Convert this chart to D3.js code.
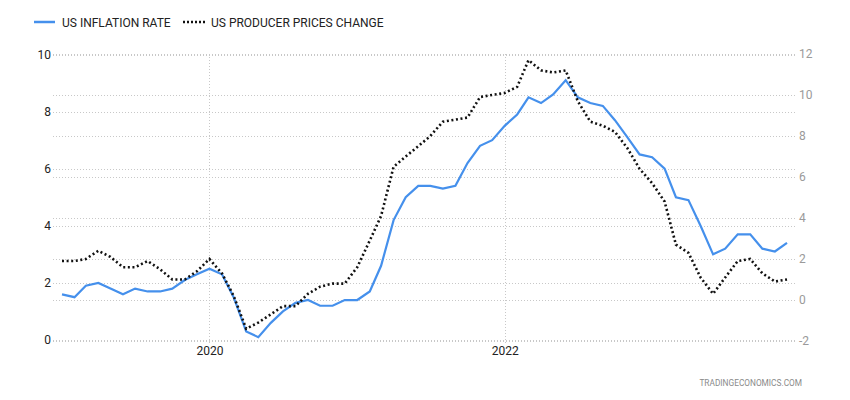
<!DOCTYPE html>
<html>
<head>
<meta charset="utf-8">
<script src="https://cdn.jsdelivr.net/npm/d3@7"></script>
<style>
  html, body { margin: 0; padding: 0; background: #fff; }
  svg { display: block; font-family: Roboto, "Noto Sans", sans-serif; }
</style>
</head>
<body>
<svg id="chart" width="850" height="400"></svg>
<script>
// ---- data ----
const startMonth = "2019-01";
const endMonth = "2023-12";
const inflationRate = [
  1.6, 1.5, 1.9, 2.0, 1.8, 1.6, 1.8, 1.7, 1.7, 1.8, 2.1, 2.3,
  2.5, 2.3, 1.5, 0.3, 0.1, 0.6, 1.0, 1.3, 1.4, 1.2, 1.2, 1.4,
  1.4, 1.7, 2.6, 4.2, 5.0, 5.4, 5.4, 5.3, 5.4, 6.2, 6.8, 7.0,
  7.5, 7.9, 8.5, 8.3, 8.6, 9.1, 8.5, 8.3, 8.2, 7.7, 7.1, 6.5,
  6.4, 6.0, 5.0, 4.9, 4.0, 3.0, 3.2, 3.7, 3.7, 3.2, 3.1, 3.4
];
const producerPrices = [
  1.9, 1.9, 2.0, 2.4, 2.1, 1.6, 1.6, 1.9, 1.5, 1.0, 1.0, 1.4,
  2.0, 1.3, 0.2, -1.4, -1.1, -0.7, -0.3, -0.3, 0.3, 0.65, 0.8, 0.8,
  1.6, 2.9, 4.1, 6.5, 7.0, 7.5, 8.0, 8.7, 8.8, 8.9, 9.9, 10.0,
  10.1, 10.4, 11.7, 11.2, 11.1, 11.2, 9.7, 8.7, 8.5, 8.2, 7.4, 6.4,
  5.7, 4.8, 2.7, 2.3, 1.1, 0.3, 1.1, 1.9, 2.0, 1.3, 0.9, 1.0
];
const leftTicks = [0, 2, 4, 6, 8, 10];
const rightTicks = [-2, 0, 2, 4, 6, 8, 10, 12];
const xTickLabels = ["2020", "2022"];
const seriesNames = ["US INFLATION RATE", "US PRODUCER PRICES CHANGE"];
const sourceText = "TRADINGECONOMICS.COM";

// ---- layout ----
const parse = d3.timeParse("%Y-%m");
const dates = d3.timeMonth.range(parse(startMonth), d3.timeMonth.offset(parse(endMonth), 1));
const plotLeft = 53, plotRight = 797;

const svg = d3.select("#chart");
const x = d3.scaleTime().domain([dates[0], dates[dates.length - 1]]).range([62, 787]);
const yL = d3.scaleLinear().domain([0, 10]).range([340, 54.5]);
const yR = d3.scaleLinear().domain([-2, 12]).range([341, 54]);

const grid = svg.append("g").attr("stroke", "#c8c8c8").attr("stroke-dasharray", "1,2").attr("stroke-width", 1);
leftTicks.forEach(t => grid.append("line")
  .attr("x1", plotLeft).attr("x2", plotRight)
  .attr("y1", Math.round(yL(t)) + 0.5).attr("y2", Math.round(yL(t)) + 0.5));
rightTicks.forEach(t => grid.append("line")
  .attr("x1", plotLeft).attr("x2", plotRight)
  .attr("y1", Math.round(yR(t)) + 0.5).attr("y2", Math.round(yR(t)) + 0.5));
const xTickDates = xTickLabels.map(s => d3.timeParse("%Y")(s));
xTickDates.forEach(d => grid.append("line")
  .attr("x1", Math.round(x(d)) + 0.5).attr("x2", Math.round(x(d)) + 0.5)
  .attr("y1", 54).attr("y2", 344));

const plain = d => String(d);

// axes
const leftAxis = svg.append("g").attr("transform", `translate(${plotLeft - 2},0)`)
  .call(d3.axisLeft(yL).tickValues(leftTicks).tickSize(0).tickPadding(0).tickFormat(plain));
leftAxis.select(".domain").remove();
leftAxis.selectAll("text").attr("fill", "#222").style("font-size", "12px").style("font-family", "Roboto, sans-serif");

const rightAxis = svg.append("g").attr("transform", `translate(${plotRight + 2},0)`)
  .call(d3.axisRight(yR).tickValues(rightTicks).tickSize(0).tickPadding(0).tickFormat(plain));
rightAxis.select(".domain").remove();
rightAxis.selectAll("text").attr("fill", "#9a9a9a").style("font-size", "12px").style("font-family", "Roboto, sans-serif");

const xAxis = svg.append("g").attr("transform", `translate(0,346)`)
  .call(d3.axisBottom(x).tickValues(xTickDates).tickSize(0).tickPadding(0).tickFormat(d3.timeFormat("%Y")));
xAxis.select(".domain").remove();
xAxis.selectAll("text").attr("fill", "#222").style("font-size", "12px").style("font-family", "Roboto, sans-serif");

// lines
const lineL = d3.line().x((d, i) => x(dates[i])).y(d => yL(d));
const lineR = d3.line().x((d, i) => x(dates[i])).y(d => yR(d));

svg.append("path").datum(inflationRate)
  .attr("d", lineL).attr("fill", "none")
  .attr("stroke", "#4590ec").attr("stroke-width", 2.2).attr("stroke-linejoin", "miter");

svg.append("path").datum(producerPrices)
  .attr("d", lineR).attr("fill", "none")
  .attr("stroke", "#111").attr("stroke-width", 2.6).attr("stroke-dasharray", "2,2.6");

// legend
const leg = svg.append("g");
leg.append("line").attr("x1", 34).attr("x2", 55).attr("y1", 22).attr("y2", 22)
  .attr("stroke", "#4590ec").attr("stroke-width", 2.5);
leg.append("text").attr("x", 62).attr("y", 26.5).text(seriesNames[0])
  .attr("fill", "#222").style("font-size", "12px");
leg.append("line").attr("x1", 183).attr("x2", 205).attr("y1", 22).attr("y2", 22)
  .attr("stroke", "#111").attr("stroke-width", 2.5).attr("stroke-dasharray", "2,2");
leg.append("text").attr("x", 211).attr("y", 26.5).text(seriesNames[1])
  .attr("fill", "#222").style("font-size", "12px");

// source
svg.append("text").attr("x", 802).attr("y", 386).attr("text-anchor", "end")
  .text(sourceText).attr("fill", "#8a8a8a").style("font-size", "8.3px");
</script>
</body>
</html>
